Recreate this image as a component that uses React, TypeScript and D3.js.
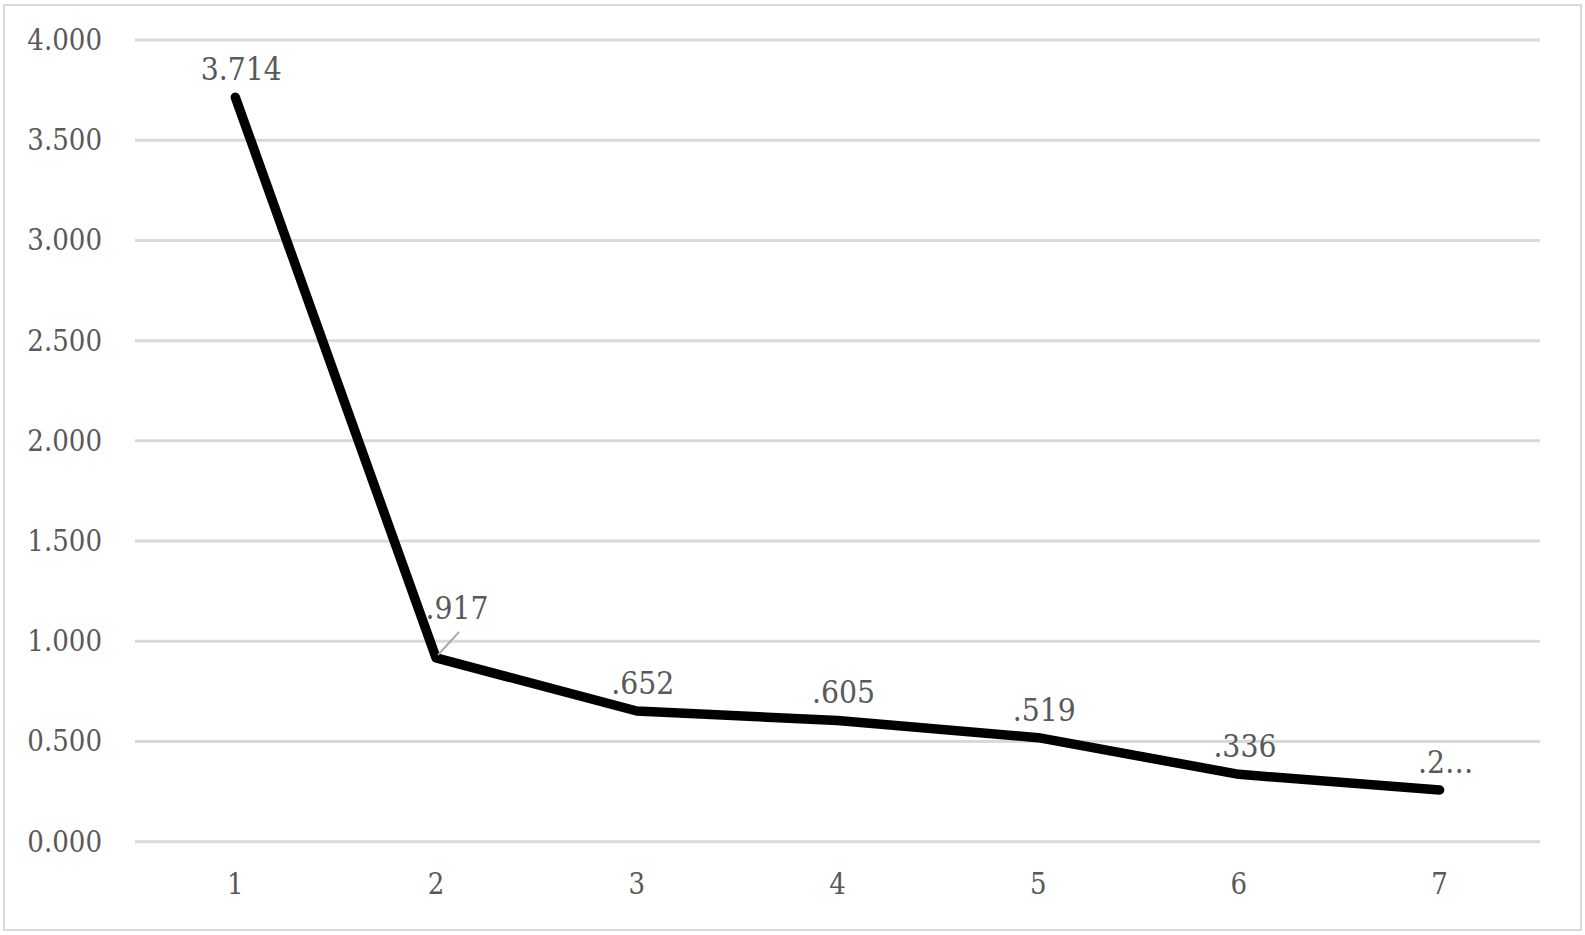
import React from "react";
import * as d3 from "d3";

const categories = ["1", "2", "3", "4", "5", "6", "7"];
const values = [3.714, 0.917, 0.652, 0.605, 0.519, 0.336, 0.258];
const dataLabels = ["3.714", ".917", ".652", ".605", ".519", ".336", ".2…"];
const yTicks = [0, 0.5, 1, 1.5, 2, 2.5, 3, 3.5, 4];
const yTickLabels = ["0.000", "0.500", "1.000", "1.500", "2.000", "2.500", "3.000", "3.500", "4.000"];

const W = 1585;
const H = 935;
const FONT = "'DejaVu Serif Condensed', 'DejaVu Serif', serif";
const TEXT = "#595959";

export default function App() {
  const x = d3.scaleBand<string>().domain(categories).range([135, 1540]);
  const y = d3.scaleLinear().domain([0, 4]).range([841.7, 40]);
  const cx = (c: string) => (x(c) as number) + x.bandwidth() / 2;

  const line = d3
    .line<number>()
    .x((_, i) => cx(categories[i]))
    .y((v) => y(v));

  return (
    <div style={{ position: "fixed", left: 0, top: 0, width: W, height: H, background: "#fff" }}>
      <svg width={W} height={H} style={{ display: "block" }}>
        <rect x={0} y={0} width={W} height={H} fill="#fff" />
        <rect x={4} y={5} width={1577} height={925} fill="#fff" stroke="#d9d9d9" strokeWidth={2} />
        {yTicks.map((t, i) => (
          <g key={"g" + i}>
            <line x1={135} x2={1540} y1={y(t)} y2={y(t)} stroke="#d9d9d9" strokeWidth={3} />
            <text
              x={102}
              y={y(t)}
              textAnchor="end"
              dominantBaseline="central"
              fontFamily={FONT}
              fontStretch="condensed"
              fontSize={29}
              fill={TEXT}
            >
              {yTickLabels[i]}
            </text>
          </g>
        ))}
        {categories.map((c) => (
          <text
            key={"x" + c}
            x={cx(c)}
            y={884}
            textAnchor="middle"
            dominantBaseline="central"
            fontFamily={FONT}
            fontStretch="condensed"
            fontSize={29}
            fill={TEXT}
          >
            {c}
          </text>
        ))}
        <path
          d={line(values) || ""}
          fill="none"
          stroke="#000"
          strokeWidth={9.5}
          strokeLinejoin="round"
          strokeLinecap="round"
        />
        {values.map((v, i) => {
          const px = cx(categories[i]);
          const py = y(v);
          const moved = i === 1;
          const lx = px + (moved ? 21 : 6);
          const ly = py + (moved ? -50 : -28);
          return (
            <g key={"l" + i}>
              {moved && (
                <line x1={px + 2} y1={py - 3} x2={px + 23} y2={py - 26} stroke="#a6a6a6" strokeWidth={2} />
              )}
              <text
                x={lx}
                y={ly}
                textAnchor="middle"
                dominantBaseline="central"
                fontFamily={FONT}
                fontStretch="condensed"
                fontSize={31.5}
                fill={TEXT}
              >
                {dataLabels[i]}
              </text>
            </g>
          );
        })}
      </svg>
    </div>
  );
}
